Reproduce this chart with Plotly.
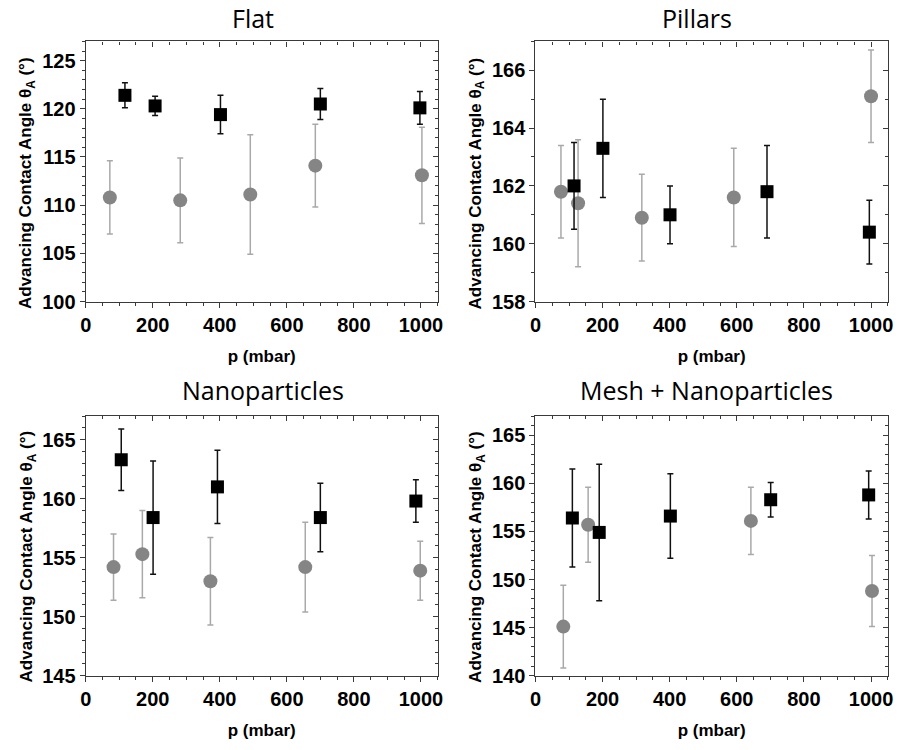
import plotly.graph_objects as go

# Pressure (mbar), advancing contact angle (deg) and standard deviation for each surface
flat_sq_p = [117, 207, 402, 700, 997]
flat_sq_a = [121.4, 120.3, 119.4, 120.5, 120.1]
flat_sq_e = [1.3, 1.0, 2.0, 1.6, 1.7]
flat_ci_p = [72, 282, 491, 685, 1003]
flat_ci_a = [110.8, 110.5, 111.1, 114.1, 113.1]
flat_ci_e = [3.8, 4.4, 6.2, 4.3, 5.0]

pil_sq_p = [115, 201, 401, 690, 995]
pil_sq_a = [162.0, 163.3, 161.0, 161.8, 160.4]
pil_sq_e = [1.5, 1.7, 1.0, 1.6, 1.1]
pil_ci_p = [76, 127, 317, 591, 1000]
pil_ci_a = [161.8, 161.4, 160.9, 161.6, 165.1]
pil_ci_e = [1.6, 2.2, 1.5, 1.7, 1.6]

np_sq_p = [106, 201, 393, 700, 985]
np_sq_a = [163.3, 158.4, 161.0, 158.4, 159.8]
np_sq_e = [2.6, 4.8, 3.1, 2.9, 1.8]
np_ci_p = [83, 169, 372, 655, 998]
np_ci_a = [154.2, 155.3, 153.0, 154.2, 153.9]
np_ci_e = [2.8, 3.7, 3.7, 3.8, 2.5]

mesh_sq_p = [110, 190, 402, 701, 993]
mesh_sq_a = [156.4, 154.9, 156.6, 158.3, 158.8]
mesh_sq_e = [5.1, 7.1, 4.4, 1.8, 2.5]
mesh_ci_p = [83, 157, 642, 1003]
mesh_ci_a = [145.1, 155.7, 156.1, 148.8]
mesh_ci_e = [4.3, 3.9, 3.5, 3.7]

panel_titles = ["Flat", "Pillars", "Nanoparticles", "Mesh + Nanoparticles"]
x_title = "p (mbar)"
y_title = "Advancing Contact Angle θ<sub>A</sub> (°)"
x_ticks = [0, 200, 400, 600, 800, 1000]
y_ranges = [[100, 127], [158, 167], [145, 167], [140, 167]]
y_ticks = [
    [100, 105, 110, 115, 120, 125],
    [158, 160, 162, 164, 166],
    [145, 150, 155, 160, 165],
    [140, 145, 150, 155, 160, 165],
]

panels = [
    (flat_sq_p, flat_sq_a, flat_sq_e, flat_ci_p, flat_ci_a, flat_ci_e),
    (pil_sq_p, pil_sq_a, pil_sq_e, pil_ci_p, pil_ci_a, pil_ci_e),
    (np_sq_p, np_sq_a, np_sq_e, np_ci_p, np_ci_a, np_ci_e),
    (mesh_sq_p, mesh_sq_a, mesh_sq_e, mesh_ci_p, mesh_ci_a, mesh_ci_e),
]

W, H = 901, 750
# plot-area boxes in pixels: (left, right, top, bottom)
boxes = [
    (80.7, 437.0, 42.0, 306.0),
    (536.0, 892.7, 42.0, 306.0),
    (80.7, 437.0, 422.3, 685.7),
    (536.0, 892.7, 422.3, 685.7),
]
title_pos = [(250, 18), (700, 18), (260, 396), (709, 396)]
ytitle_pos = [(22, 186), (477, 186), (22, 565), (477, 565)]

AX_COLOR = "#3a3a3a"
TICK_FONT = dict(family="Liberation Sans, Arial", size=20, color="black", weight="bold")
TITLE_FONT = dict(family="Liberation Sans, Arial", size=17, color="black", weight="bold")

fig = go.Figure()
layout = dict(
    width=W, height=H,
    margin=dict(l=0, r=0, t=0, b=0),
    paper_bgcolor="white", plot_bgcolor="white",
    showlegend=False,
    annotations=[],
)

for i, (sq_p, sq_a, sq_e, ci_p, ci_a, ci_e) in enumerate(panels):
    n = i + 1
    xa = "x" if n == 1 else f"x{n}"
    ya = "y" if n == 1 else f"y{n}"
    ox = f"x{n + 4}"
    oy = f"y{n + 4}"
    fig.add_trace(go.Scatter(
        x=ci_p, y=ci_a, mode="markers", xaxis=xa, yaxis=ya,
        marker=dict(symbol="circle", size=14, color="#858585"),
        error_y=dict(type="data", array=ci_e, color="#a9a9a9", thickness=1.5, width=3),
        cliponaxis=False,
    ))
    fig.add_trace(go.Scatter(
        x=sq_p, y=sq_a, mode="markers", xaxis=xa, yaxis=ya,
        marker=dict(symbol="square", size=13, color="black"),
        error_y=dict(type="data", array=sq_e, color="#111111", thickness=1.5, width=3),
        cliponaxis=False,
    ))
    # empty trace so the top/right frame axes are drawn
    fig.add_trace(go.Scatter(x=[], y=[], xaxis=ox, yaxis=oy, hoverinfo="skip"))

    l, r, t, b = boxes[i]
    xdom = [l / W, r / W]
    ydom = [1 - b / H, 1 - t / H]
    key_x = "xaxis" if n == 1 else f"xaxis{n}"
    key_y = "yaxis" if n == 1 else f"yaxis{n}"
    layout[key_x] = dict(
        domain=xdom, anchor=ya, range=[0, 1050],
        tickvals=x_ticks, ticks="outside", ticklen=5, tickwidth=1.2, tickcolor=AX_COLOR,
        minor=dict(dtick=50, tick0=0, ticks="outside", ticklen=3, tickwidth=1, tickcolor=AX_COLOR),
        showline=True, linecolor=AX_COLOR, linewidth=1.3, showgrid=False, zeroline=False,
        tickfont=TICK_FONT,
        title=dict(text=x_title, font=TITLE_FONT, standoff=15),
    )
    layout[key_y] = dict(
        domain=ydom, anchor=xa, range=y_ranges[i],
        tickvals=y_ticks[i], ticks="outside", ticklen=5, tickwidth=1.2, tickcolor=AX_COLOR,
        minor=dict(dtick=1, tick0=0, ticks="outside", ticklen=3, tickwidth=1, tickcolor=AX_COLOR),
        showline=True, linecolor=AX_COLOR, linewidth=1.3, showgrid=False, zeroline=False,
        tickfont=TICK_FONT,
    )
    # frame on top and right with inward ticks
    layout[f"xaxis{n + 4}"] = dict(
        domain=xdom, anchor=oy, overlaying=xa, side="top", range=[0, 1050],
        tickvals=x_ticks, ticks="inside", ticklen=5, tickwidth=1.2, tickcolor=AX_COLOR,
        minor=dict(dtick=50, tick0=0, ticks="inside", ticklen=3, tickwidth=1, tickcolor=AX_COLOR),
        showline=True, linecolor=AX_COLOR, linewidth=1.3, showgrid=False, zeroline=False,
        showticklabels=False,
    )
    layout[f"yaxis{n + 4}"] = dict(
        domain=ydom, anchor=ox, overlaying=ya, side="right", range=y_ranges[i],
        tickvals=y_ticks[i], ticks="inside", ticklen=5, tickwidth=1.2, tickcolor=AX_COLOR,
        minor=dict(dtick=1, tick0=0, ticks="inside", ticklen=3, tickwidth=1, tickcolor=AX_COLOR),
        showline=True, linecolor=AX_COLOR, linewidth=1.3, showgrid=False, zeroline=False,
        showticklabels=False,
    )
    tx, ty = title_pos[i]
    layout["annotations"].append(dict(
        text=panel_titles[i], x=tx / W, y=1 - ty / H, xref="paper", yref="paper",
        xanchor="center", yanchor="middle", showarrow=False,
        font=dict(family="Open Sans", size=25, color="black"),
    ))
    yx, yy = ytitle_pos[i]
    layout["annotations"].append(dict(
        text=y_title, x=yx / W, y=1 - yy / H, xref="paper", yref="paper",
        xanchor="center", yanchor="middle", showarrow=False, textangle=-90,
        font=TITLE_FONT,
    ))

fig.update_layout(**layout)
fig.write_html("out.html")
